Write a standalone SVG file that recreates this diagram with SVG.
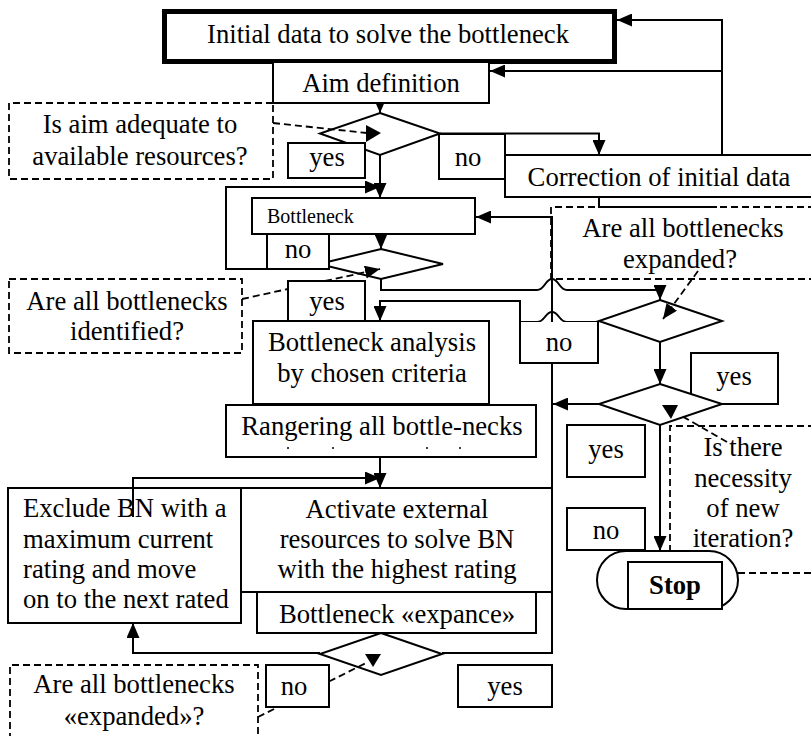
<svg xmlns="http://www.w3.org/2000/svg" width="811" height="736" viewBox="0 0 811 736">
<style>
.b{fill:#fff;stroke:#000;stroke-width:2}
.n{fill:none;stroke:#000;stroke-width:2}
.c{fill:none;stroke:#000;stroke-width:2}
.d{fill:none;stroke:#000;stroke-width:1.8;stroke-dasharray:7 4}
.t{font-family:"Liberation Serif","Times New Roman",serif;font-size:26.67px;fill:#000}
.m{text-anchor:middle}
.s{font-size:20px}
.bold{font-weight:bold}
.ah{fill:#000}
</style>
<defs>
<marker id="a" markerUnits="userSpaceOnUse" markerWidth="15" markerHeight="13" refX="15" refY="6.5" orient="auto">
<path d="M0,0 L15,6.5 L0,13 z" fill="#000"/>
</marker>
</defs>

<g id="connectors">
<path class="c" d="M380,44 V61" marker-end="url(#a)"/>
<path class="c" d="M380,93 V113" marker-end="url(#a)"/>
<path class="c" d="M380,155 V198" marker-end="url(#a)"/>
<path class="c" d="M267,269 H226 V187 H380" marker-end="url(#a)"/>
<path class="c" d="M440,133.5 H599 V155" marker-end="url(#a)"/>
<path class="c" d="M722,155 V20 H617" marker-end="url(#a)"/>
<path class="c" d="M722,71 H490" marker-end="url(#a)"/>
<path class="c" d="M381,234 V249" marker-end="url(#a)"/>
<path class="c" d="M381,279 V290 H537 C545,290 545,279 552,279 C559,279 559,290 567,290 H660 V300" marker-end="url(#a)"/>
<path class="c" d="M599,322 H567 C559,322 559,312 552,312 C545,312 545,322 537,322 H520 V301 H380 V321" marker-end="url(#a)"/>
<path class="c" d="M660,342 V384" marker-end="url(#a)"/>
<path class="c" d="M599,404 H553" marker-end="url(#a)"/>
<path class="c" d="M660,425 V551" marker-end="url(#a)"/>
<path class="c" d="M380,457 V488" marker-end="url(#a)"/>
<path class="c" d="M133,517 V478 H380" marker-end="url(#a)"/>
<path class="c" d="M320,653 H133 V623" marker-end="url(#a)"/>
<path class="c" d="M442,653 H552 V217 H476" marker-end="url(#a)"/>
<path class="c" d="M599,197 V207 H717"/>
</g>

<g id="n-initial"><rect x="164.5" y="11.5" width="450" height="50" fill="#fff" stroke="#000" stroke-width="5"/>
<text class="t m" x="388" y="43">Initial data to solve the bottleneck</text></g>

<g id="n-aim"><rect class="b" x="273" y="62" width="216" height="41"/>
<text class="t m" x="381" y="92">Aim definition</text></g>

<g id="n-dec1"><polygon class="b" points="380,113 440,133.5 380,155 320,133.5"/></g>
<g id="n-yes1"><rect class="b" x="288" y="143" width="77" height="35"/>
<text class="t m" x="327" y="166">yes</text></g>
<g id="n-no1"><rect class="b" x="439" y="134" width="66" height="45"/>
<text class="t m" x="468" y="166">no</text></g>

<g id="n-correction"><rect class="b" x="505" y="155" width="310" height="42"/>
<text class="t m" x="659" y="186">Correction of initial data</text></g>

<g id="n-bottleneck"><rect class="b" x="252" y="198" width="223" height="36"/>
<text class="t s" x="267" y="223">Bottleneck</text></g>

<g id="n-dec2"><polygon class="b" points="381,249 443,264 381,279 319,264"/></g>
<g id="n-no2"><rect class="b" x="267" y="234" width="62" height="35"/>
<text class="t m" x="298" y="258">no</text></g>
<g id="n-yes2"><rect class="b" x="288" y="281" width="77" height="40"/>
<text class="t m" x="327" y="310">yes</text></g>

<g id="n-analysis"><rect class="b" x="253" y="321" width="236" height="83"/>
<text class="t m" x="372" y="351">Bottleneck analysis</text>
<text class="t m" x="372" y="382">by chosen criteria</text></g>

<g id="n-rangering"><rect class="b" x="226" y="405" width="310" height="52"/>
<text class="t m" x="382" y="435">Rangering all bottle-necks</text>
<circle cx="288" cy="448" r="1" fill="#000"/><circle cx="333" cy="448" r="1" fill="#000"/><circle cx="427" cy="448" r="1" fill="#000"/><circle cx="460" cy="448" r="1" fill="#000"/></g>

<g id="n-no3"><rect x="520" y="322" width="78" height="41" fill="#fff"/>
<path class="n" d="M520,322 V363 H598 V322"/>
<text class="t m" x="559" y="351">no</text></g>

<g id="n-dec3"><polygon class="b" points="660,300 722,321 660,342 599,321"/></g>

<g id="n-yes4"><rect class="b" x="691" y="353" width="87" height="51"/>
<text class="t m" x="734" y="385">yes</text></g>
<g id="n-dec4"><polygon class="b" points="660,384 722,404 660,425 599,404"/></g>

<g id="n-yes5"><rect class="b" x="567" y="425" width="78" height="52"/>
<text class="t m" x="606" y="458">yes</text></g>
<g id="n-no6"><rect class="b" x="567" y="508" width="78" height="42"/>
<text class="t m" x="606" y="539">no</text></g>

<g id="n-exclude"><rect class="n" x="8" y="488" width="233" height="135"/>
<text class="t" x="23" y="517">Exclude BN with a</text>
<text class="t" x="23" y="548">maximum current</text>
<text class="t" x="23" y="578">rating and move</text>
<text class="t" x="23" y="608">on to the next rated</text></g>

<g id="n-activate"><rect class="b" x="241" y="488" width="311" height="104"/>
<text class="t m" x="397" y="518">Activate external</text>
<text class="t m" x="397" y="548">resources to solve BN</text>
<text class="t m" x="397" y="578">with the highest rating</text></g>

<g id="n-expance"><rect class="b" x="257" y="592" width="279" height="41"/>
<text class="t m" x="397" y="623">Bottleneck «expance»</text></g>

<g id="n-dec5"><polygon class="b" points="381,633 442,654 381,675 320,654"/></g>
<g id="n-no7"><rect class="b" x="266" y="665" width="63" height="42"/>
<text class="t m" x="294" y="695">no</text></g>
<g id="n-yes8"><rect class="b" x="458" y="665" width="94" height="42"/>
<text class="t m" x="505" y="695">yes</text></g>

<g id="callouts">
<path class="d" d="M273,103 H9 V179 H273 V103"/>
<path class="d" d="M273,123 L367,133"/>
<polygon class="ah" points="366,125 381,133 366,142"/>
<text class="t m" x="140" y="133">Is aim adequate to</text>
<text class="t m" x="140" y="165">available resources?</text>

<rect class="d" x="9" y="279" width="233" height="74"/>
<path class="d" d="M242,299 L288,289 M325,281 L380,269" marker-end="url(#a)"/>
<text class="t m" x="127" y="310">Are all bottlenecks</text>
<text class="t m" x="127" y="340">identified?</text>

<path class="d" d="M815,207 H551 V279 H815"/>
<path class="d" d="M698,271 L663,319" marker-end="url(#a)"/>
<text class="t m" x="683" y="237">Are all bottlenecks</text>
<text class="t m" x="680" y="268">expanded?</text>

<path class="d" d="M815,426 H670 V551 M738,573 H815"/>
<path class="d" d="M727,442 L680,415"/>
<polygon class="ah" points="662,405 678,405 671,419"/>
<text class="t m" x="743" y="456">Is there</text>
<text class="t m" x="743" y="487">necessity</text>
<text class="t m" x="743" y="517">of new</text>
<text class="t m" x="743" y="547">iteration?</text>

<path class="d" d="M10,740 V665 H258 V740"/>
<path class="d" d="M258,717 L278,707 M329,681.5 L368,662"/>
<polygon class="ah" points="365,654 381,654 373,667"/>
<text class="t m" x="134" y="693">Are all bottlenecks</text>
<text class="t m" x="134" y="725">«expanded»?</text>
</g>

<g id="n-stop"><rect class="b" x="597" y="551" width="141" height="58" rx="29" ry="29"/>
<rect class="b" x="628" y="562" width="94" height="47"/>
<text class="t m bold" x="675" y="594">Stop</text></g>
</svg>
